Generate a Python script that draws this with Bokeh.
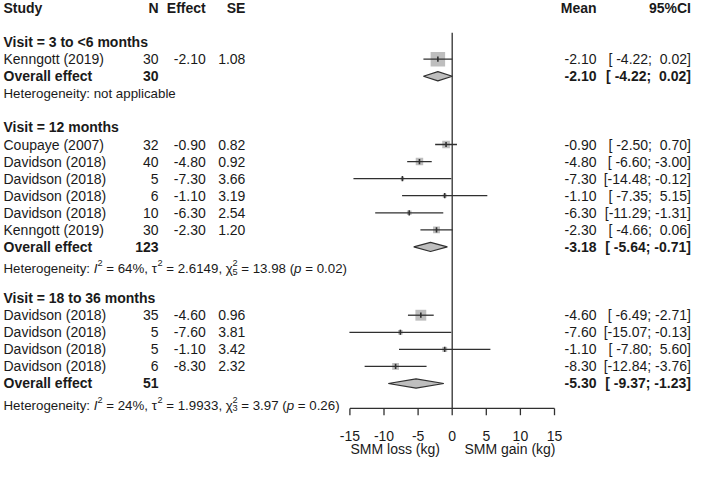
from bokeh.plotting import figure
from bokeh.models import Range1d, ColumnDataSource
from bokeh.core.properties import value
from bokeh.embed import file_html
from bokeh.resources import INLINE

# ---------------- data ----------------
headers = ["Study", "N", "Effect", "SE", "Mean", "95%CI"]
sec_titles = ["Visit = 3 to <6 months", "Visit = 12 months", "Visit = 18 to 36 months"]

s1_study = ["Kenngott (2019)"]
s1_n = [30]
s1_eff = [-2.10]
s1_se = [1.08]
s1_lo = [-4.22]
s1_hi = [0.02]
s1_w = [100.0]

s2_study = ["Coupaye (2007)", "Davidson (2018)", "Davidson (2018)", "Davidson (2018)",
            "Davidson (2018)", "Kenngott (2019)"]
s2_n = [32, 40, 5, 6, 10, 30]
s2_eff = [-0.90, -4.80, -7.30, -1.10, -6.30, -2.30]
s2_se = [0.82, 0.92, 3.66, 3.19, 2.54, 1.20]
s2_lo = [-2.50, -6.60, -14.48, -7.35, -11.29, -4.66]
s2_hi = [0.70, -3.00, -0.12, 5.15, -1.31, 0.06]
s2_w = [27.9, 26.5, 5.7, 7.2, 10.1, 22.7]

s3_study = ["Davidson (2018)", "Davidson (2018)", "Davidson (2018)", "Davidson (2018)"]
s3_n = [35, 5, 5, 6]
s3_eff = [-4.60, -7.60, -1.10, -8.30]
s3_se = [0.96, 3.81, 3.42, 2.32]
s3_lo = [-6.49, -15.07, -7.80, -12.84]
s3_hi = [-2.71, -0.13, 5.60, -3.76]
s3_w = [56.1, 9.9, 11.9, 22.1]

overall_n = [30, 123, 51]
overall_est = [-2.10, -3.18, -5.30]
overall_lo = [-4.22, -5.64, -9.37]
overall_hi = [0.02, -0.71, -1.23]

het_i2 = [None, 64, 24]
het_tau2 = [None, 2.6149, 1.9933]
het_df = [None, 5, 3]
het_chi2 = [None, 13.98, 3.97]
het_p = [None, 0.02, 0.26]
het_na = "Heterogeneity: not applicable"

null_effect = 0
axis_ticks = [-15, -10, -5, 0, 5, 10, 15]
label_left = "SMM loss (kg)"
label_right = "SMM gain (kg)"

sections = [
    (s1_study, s1_n, s1_eff, s1_se, s1_lo, s1_hi, s1_w),
    (s2_study, s2_n, s2_eff, s2_se, s2_lo, s2_hi, s2_w),
    (s3_study, s3_n, s3_eff, s3_se, s3_lo, s3_hi, s3_w),
]

# ---------------- layout ----------------
W, H = 693, 462
PPU = 6.82          # px per effect unit
X0 = 451.7          # px position of effect 0
ROWPX = 17.07       # px per row
Y0 = 7.45           # px position of row 0

FONT = "Liberation Sans"
MAIN = "14px"
HET = 13.3
SUP = 9.2
TXT = "#1a1a1a"
LINE = "#303030"
BOX = "#bebebe"
NB = "\u00a0"


def ux(px):
    return (px - X0) / PPU


def dr(px):
    return px / ROWPX


COL_STUDY = ux(3.0)
COL_N = ux(158.0)
COL_EFF = ux(205.2)
COL_SE = ux(244.9)
COL_MEAN = ux(596.0)
COL_CI = ux(690.4)

p = figure(width=W, height=H, x_range=Range1d(ux(0), ux(W)),
           y_range=Range1d((H - Y0) / ROWPX, -Y0 / ROWPX),
           x_axis_type=None, y_axis_type=None, toolbar_location=None,
           output_backend="svg", min_border=0, outline_line_color=None,
           background_fill_color="white", border_fill_color="white")
p.grid.visible = False


def add_text(xs, ys, ts, size=MAIN, style="normal", align="left",
             baseline="middle", xo=None, yo=None):
    n = len(ts)
    src = ColumnDataSource(dict(x=list(xs), y=list(ys), t=list(ts),
                                xo=list(xo) if xo is not None else [0] * n,
                                yo=list(yo) if yo is not None else [0] * n))
    p.text(x="x", y="y", text="t", x_offset="xo", y_offset="yo", source=src,
           text_font=value(FONT), text_font_size=value(size),
           text_font_style=style, text_align=align, text_baseline=baseline,
           text_color=TXT)


def fmt_ci(lo, hi):
    return ("[%6.2f; %5.2f]" % (lo, hi)).replace(" ", NB)


# Arial / Liberation Sans advance widths (1/1000 em)
AW = {' ': 278, NB: 278, '%': 889, '(': 333, ')': 333, ',': 278, '.': 278,
      ':': 278, '=': 584, '<': 584, '-': 333, 'H': 722, 'I': 278, 'a': 556,
      'b': 556, 'c': 500, 'e': 556, 'g': 556, 'i': 222, 'l': 222, 'n': 556,
      'o': 556, 'p': 556, 'r': 333, 't': 278, 'y': 500, '\u03c4': 434,
      '\u03c7': 500}


def tw(s, size):
    return sum(AW.get(c, 556) for c in s) / 1000.0 * size


# zero line
top_row = 1.45
axis_row = 23.46
p.segment(x0=[null_effect], y0=[top_row], x1=[null_effect], y1=[axis_row],
          line_color=LINE, line_width=1.3)

# header
add_text([COL_STUDY], [0], [headers[0]], style="bold", align="left")
add_text([COL_N, COL_EFF, COL_SE, COL_MEAN, COL_CI], [0] * 5, headers[1:],
         style="bold", align="right")

r = 2
het_groups = {}
for k, (st, nn, ef, se, lo, hi, w) in enumerate(sections):
    add_text([COL_STUDY], [r], [sec_titles[k]], style="bold")
    rows = [r + 1 + i for i in range(len(st))]
    add_text([COL_STUDY] * len(st), rows, st)
    add_text([COL_N] * len(st), rows, [str(v) for v in nn], align="right")
    add_text([COL_EFF] * len(st), rows, ["%.2f" % v for v in ef], align="right")
    add_text([COL_SE] * len(st), rows, ["%.2f" % v for v in se], align="right")
    add_text([COL_MEAN] * len(st), rows, ["%.2f" % v for v in ef], align="right")
    add_text([COL_CI] * len(st), rows, [fmt_ci(a, b) for a, b in zip(lo, hi)], align="right")
    # boxes, CI lines, point marks
    p.scatter(x=ef, y=rows, size=[1.45 * (v ** 0.5) for v in w], marker="square",
              fill_color=BOX, line_color=None)
    p.segment(x0=lo, y0=rows, x1=hi, y1=rows, line_color=LINE, line_width=1.3)
    p.segment(x0=ef, y0=[y - dr(2.6) for y in rows], x1=ef, y1=[y + dr(2.6) for y in rows],
              line_color=LINE, line_width=1.6)
    # overall
    ro = r + len(st) + 1
    add_text([COL_STUDY], [ro], ["Overall effect"], style="bold")
    add_text([COL_N], [ro], [str(overall_n[k])], style="bold", align="right")
    add_text([COL_MEAN], [ro], ["%.2f" % overall_est[k]], style="bold", align="right")
    add_text([COL_CI], [ro], [fmt_ci(overall_lo[k], overall_hi[k])], style="bold", align="right")
    hh = dr(4.6)
    e, a, b = overall_est[k], overall_lo[k], overall_hi[k]
    p.patches(xs=[[a, e, b, e]], ys=[[ro, ro - hh, ro, ro + hh]],
              fill_color=BOX, line_color=LINE, line_width=1.2)
    # heterogeneity
    rh = ro + 1
    if het_i2[k] is None:
        add_text([COL_STUDY], [rh], [het_na], size="%.1fpx" % HET)
    else:
        segs = [
            ("Heterogeneity: ", "normal", "main", True),
            ("I", "italic", "main", True),
            ("2", "normal", "sup", True),
            (" = %d%%, " % het_i2[k], "normal", "main", True),
            ("\u03c4", "normal", "main", True),
            ("2", "normal", "sup", True),
            (" = %.4f, " % het_tau2[k], "normal", "main", True),
            ("\u03c7", "normal", "main", True),
            ("2", "normal", "sup", False),
            (str(het_df[k]), "normal", "sub", True),
            (" = %.2f (" % het_chi2[k], "normal", "main", True),
            ("p", "italic", "main", True),
            (" = %.2f)" % het_p[k], "normal", "main", True),
        ]
        xoff = 0.0
        base = 0.35 * HET
        for txt, style, kind, adv in segs:
            txt = txt.replace(" ", NB)
            size = HET if kind == "main" else SUP
            yo = base if kind == "main" else (base - 5.4 if kind == "sup" else base + 3.2)
            key = (style, size)
            het_groups.setdefault(key, [[], [], [], [], []])
            g = het_groups[key]
            g[0].append(COL_STUDY); g[1].append(rh); g[2].append(txt)
            g[3].append(xoff); g[4].append(yo)
            if adv:
                xoff += tw(txt, size)
    r = rh + 2

for (style, size), g in het_groups.items():
    add_text(g[0], g[1], g[2], size="%.1fpx" % size, style=style, align="left",
             baseline="alphabetic", xo=g[3], yo=g[4])

# axis
p.segment(x0=[min(axis_ticks)], y0=[axis_row], x1=[max(axis_ticks)], y1=[axis_row],
          line_color=LINE, line_width=1.3)
p.segment(x0=axis_ticks, y0=[axis_row] * len(axis_ticks), x1=axis_ticks,
          y1=[axis_row + dr(6.8)] * len(axis_ticks), line_color=LINE, line_width=1.3)
add_text(axis_ticks, [25.06] * len(axis_ticks), [str(t) for t in axis_ticks], align="center")
add_text([-1.8], [25.83], [label_left], align="right")
add_text([1.8], [25.83], [label_right], align="left")

open("out.html", "w").write(file_html(p, INLINE))
